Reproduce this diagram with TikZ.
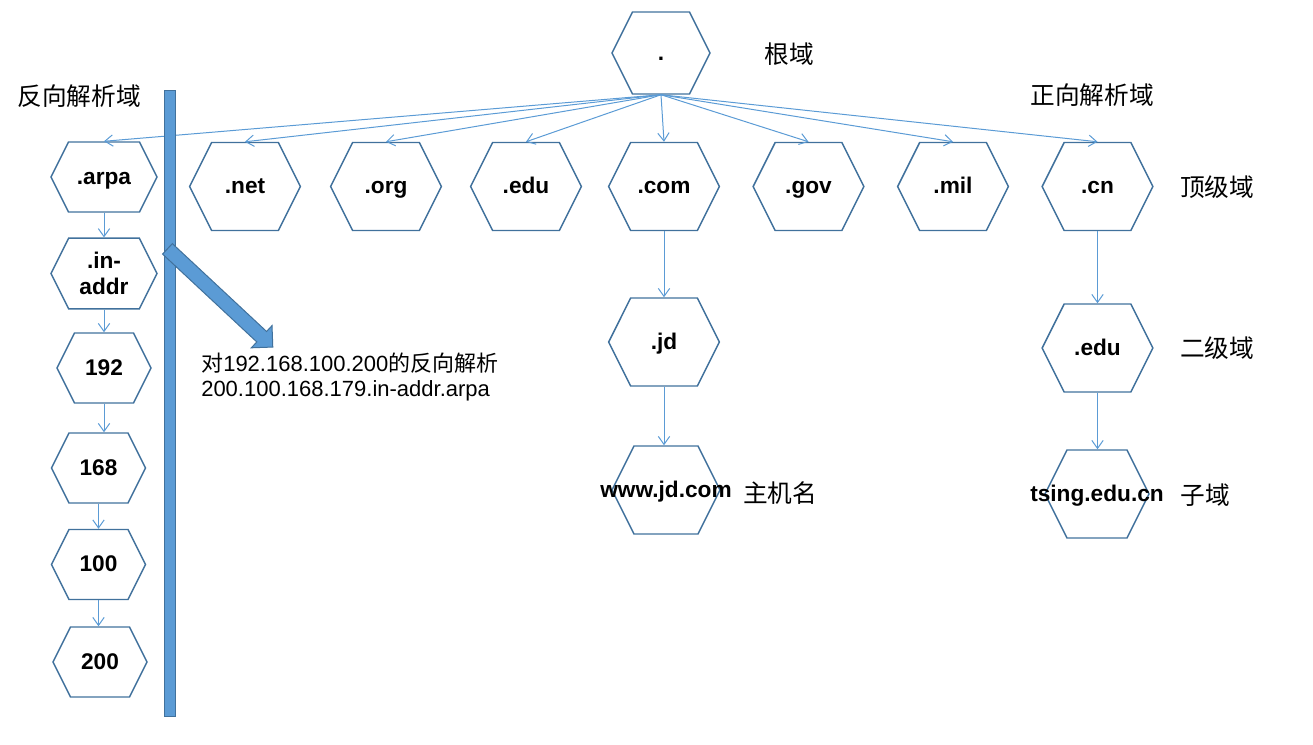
\documentclass[tikz,border=0pt]{standalone}
\usepackage{fontspec}
\setmainfont{Liberation Sans}
\newfontfamily\cjk{Noto Sans CJK SC}
\usepackage{tikz}
\usetikzlibrary{arrows.meta,positioning,shapes.symbols,shapes.arrows}

\definecolor{hexline}{RGB}{65,113,156}
\definecolor{linkblue}{RGB}{91,155,213}

\begin{document}
\begin{tikzpicture}[
    x=0.75pt, y=-0.75pt,
    hexa/.style={
        signal,
        signal to=west and east,
        signal pointer angle=126.87,
        draw=hexline,
        line width=1.1pt,
        inner sep=0pt,
        minimum width=83pt,
        minimum height=66pt,
        align=center,
        text height=14pt,
        text depth=3.5pt,
        font=\fontsize{17}{19}\selectfont\bfseries
    },
    lower/.style={
        hexa,
        minimum width=79.5pt,
        minimum height=52.5pt
    },
    zh/.style={
        font=\cjk\fontsize{18.5}{22}\selectfont,
        inner sep=0pt
    },
    link/.style={-{Straight Barb[length=6pt,width=8.5pt]}, draw=linkblue, line width=0.75pt}
]
    \useasboundingbox (0,0) rectangle (1313,744);

    %% Root
    \node[hexa, minimum width=73.5pt, minimum height=61.5pt] (root) at (661,53) {.};

    %% Top-level domains
    \node[hexa] (net) at (245,186.5) {.net};
    \node[hexa] (org) at (386,186.5) {.org};
    \node[hexa] (edu) at (526,186.5) {.edu};
    \node[hexa] (com) at (664,186.5) {.com};
    \node[hexa] (gov) at (808.5,186.5) {.gov};
    \node[hexa] (mil) at (953,186.5) {.mil};
    \node[hexa] (cn) at (1097.5,186.5) {.cn};

    %% Reverse lookup column
    \node[lower] (arpa) at (104,177) {.arpa};
    \node[lower, minimum height=53pt, text height={}, text depth={}] (inaddr) at (104,273.5) {.in-\\addr};
    \node[lower, minimum width=70.5pt] (n192) at (104,368) {192};
    \node[lower, minimum width=70.5pt] (n168) at (98.5,468) {168};
    \node[lower, minimum width=70.5pt] (n100) at (98.5,564.5) {100};
    \node[lower, minimum width=70.5pt] (n200) at (100,662) {200};

    %% Lower levels
    \node[hexa] (jd) at (664,342) {.jd};
    \node[hexa, minimum width=81pt] (www) at (666,490) {\makebox[0pt]{www.jd.com}};
    \node[hexa] (cnedu) at (1097.5,348) {.edu};
    \node[hexa, minimum width=78pt] (tsing) at (1097,494) {\makebox[0pt]{tsing.edu.cn}};

    %% Level captions
    \node[zh] (lbroot) at (789,54) {根域};
    \node[zh] (lbrev) at (79,96) {反向解析域};
    \node[zh] (lbfwd) at (1092,95) {正向解析域};
    \node[zh] (lbtop) at (1217,187) {顶级域};
    \node[zh] (lbsec) at (1217,348) {二级域};
    \node[zh] (lbsub) at (1205,495) {子域};
    \node[zh] (lbhost) at (780,493) {主机名};

    %% Arrows
    \draw[link] (root.south) -- (arpa.north);
    \draw[link] (root.south) -- (net.north);
    \draw[link] (root.south) -- (org.north);
    \draw[link] (root.south) -- (edu.north);
    \draw[link] (root.south) -- (com.north);
    \draw[link] (root.south) -- (gov.north);
    \draw[link] (root.south) -- (mil.north);
    \draw[link] (root.south) -- (cn.north);
    \draw[link] (arpa.south) -- (arpa.south |- inaddr.north);
    \draw[link] (inaddr.south) -- (inaddr.south |- n192.north);
    \draw[link] (n192.south) -- (n192.south |- n168.north);
    \draw[link] (n168.south) -- (n168.south |- n100.north);
    \draw[link] (n100.south) -- (n100.south |- n200.north);
    \draw[link] (com.south) -- (com.south |- jd.north);
    \draw[link] (jd.south) -- (jd.south |- www.north);
    \draw[link] (cn.south) -- (cn.south |- cnedu.north);
    \draw[link] (cnedu.south) -- (cnedu.south |- tsing.north);

    %% Divider and reverse lookup note
    \node[draw=hexline, fill=linkblue, line width=0.75pt, minimum width=8.25pt, minimum height=470pt, inner sep=0pt] (divider) at (169.5,403.5) {};
    \node[single arrow, draw=hexline, fill=linkblue, line width=0.75pt, rotate=-43,
          minimum height=108pt, inner sep=5pt, single arrow head extend=6pt,
          single arrow tip angle=90] (revarrow) at (217.5,295.5) {};
    \node[anchor=west, align=left, inner sep=0pt, font=\fontsize{16.5}{18.75}\selectfont] (revnote) at (201,377)
        {{\cjk 对}192.168.100.200{\cjk 的反向解析}\\200.100.168.179.in-addr.arpa};
\end{tikzpicture}
\end{document}
